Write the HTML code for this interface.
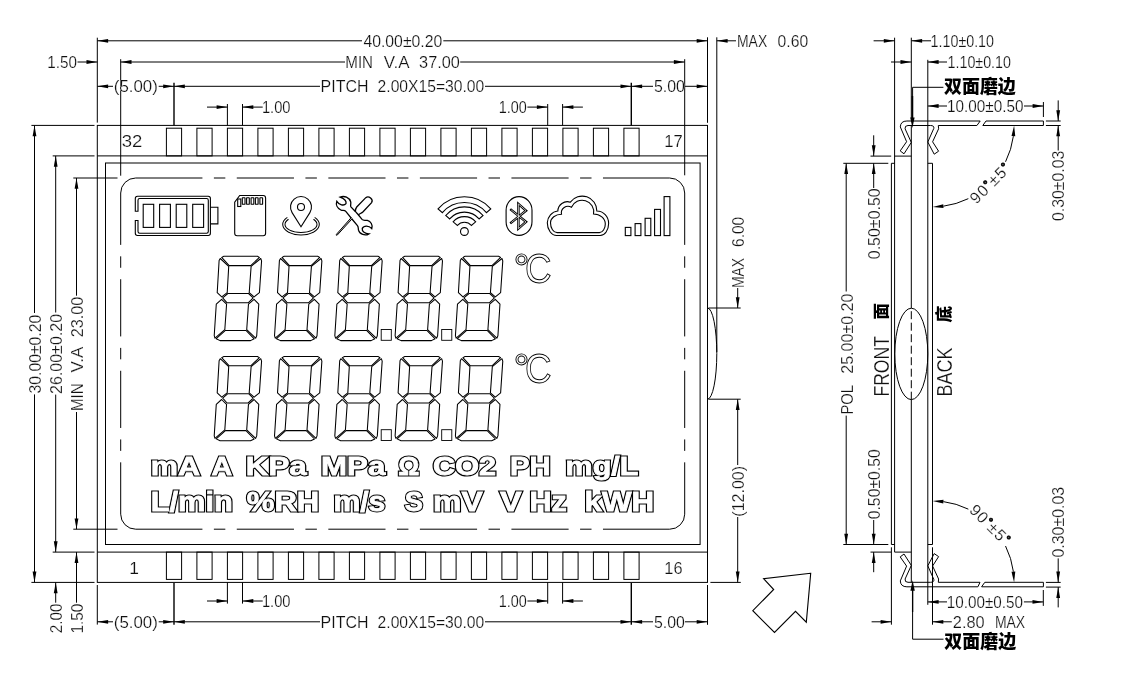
<!DOCTYPE html>
<html lang="zh"><head><meta charset="utf-8"><title>LCD outline drawing</title>
<style>
html,body{margin:0;padding:0;background:#fff;overflow:hidden}
svg{display:block;will-change:transform}
svg *{vector-effect:none}
.g{fill:none;stroke:#000;stroke-linecap:butt;stroke-linejoin:miter}
.a{fill:#000;stroke:none}
.t{fill:#111;stroke:#fff;stroke-width:0.2px;font-family:"Liberation Sans", sans-serif;white-space:pre}
.c{fill:#000;stroke:none;font-family:"Liberation Sans", "Noto Sans CJK SC", sans-serif;font-weight:900}
.o1{fill:#000;stroke:#000;stroke-linejoin:miter;stroke-miterlimit:3;font-family:"Liberation Sans", sans-serif;font-weight:bold}
.o2{fill:#fff;stroke:#fff;stroke-linejoin:miter;stroke-miterlimit:3;font-family:"Liberation Sans", sans-serif;font-weight:bold}
.w{stroke:#fff}
</style></head><body>
<svg width="1138" height="679" viewBox="0 0 1138 679">
<rect width="1138" height="679" fill="#fff"/>
<g class="g">
<rect x="97.3" y="125.4" width="610.2" height="457" rx="0" stroke-width="1"/>
<line x1="97.3" y1="155.9" x2="707.5" y2="155.9" stroke-width="1"/>
<line x1="97.3" y1="552.1" x2="707.5" y2="552.1" stroke-width="1"/>
<rect x="105.5" y="163" width="594.6" height="381.5" rx="0" stroke-width="1"/>
<rect x="166.4" y="128.2" width="15.2" height="27.7" rx="0" stroke-width="1"/>
<rect x="166.4" y="552.1" width="15.2" height="27.3" rx="0" stroke-width="1"/>
<rect x="196.9" y="128.2" width="15.2" height="27.7" rx="0" stroke-width="1"/>
<rect x="196.9" y="552.1" width="15.2" height="27.3" rx="0" stroke-width="1"/>
<rect x="227.4" y="128.2" width="15.2" height="27.7" rx="0" stroke-width="1"/>
<rect x="227.4" y="552.1" width="15.2" height="27.3" rx="0" stroke-width="1"/>
<rect x="257.9" y="128.2" width="15.2" height="27.7" rx="0" stroke-width="1"/>
<rect x="257.9" y="552.1" width="15.2" height="27.3" rx="0" stroke-width="1"/>
<rect x="288.4" y="128.2" width="15.2" height="27.7" rx="0" stroke-width="1"/>
<rect x="288.4" y="552.1" width="15.2" height="27.3" rx="0" stroke-width="1"/>
<rect x="318.9" y="128.2" width="15.2" height="27.7" rx="0" stroke-width="1"/>
<rect x="318.9" y="552.1" width="15.2" height="27.3" rx="0" stroke-width="1"/>
<rect x="349.4" y="128.2" width="15.2" height="27.7" rx="0" stroke-width="1"/>
<rect x="349.4" y="552.1" width="15.2" height="27.3" rx="0" stroke-width="1"/>
<rect x="379.9" y="128.2" width="15.2" height="27.7" rx="0" stroke-width="1"/>
<rect x="379.9" y="552.1" width="15.2" height="27.3" rx="0" stroke-width="1"/>
<rect x="410.4" y="128.2" width="15.2" height="27.7" rx="0" stroke-width="1"/>
<rect x="410.4" y="552.1" width="15.2" height="27.3" rx="0" stroke-width="1"/>
<rect x="440.9" y="128.2" width="15.2" height="27.7" rx="0" stroke-width="1"/>
<rect x="440.9" y="552.1" width="15.2" height="27.3" rx="0" stroke-width="1"/>
<rect x="471.4" y="128.2" width="15.2" height="27.7" rx="0" stroke-width="1"/>
<rect x="471.4" y="552.1" width="15.2" height="27.3" rx="0" stroke-width="1"/>
<rect x="501.9" y="128.2" width="15.2" height="27.7" rx="0" stroke-width="1"/>
<rect x="501.9" y="552.1" width="15.2" height="27.3" rx="0" stroke-width="1"/>
<rect x="532.4" y="128.2" width="15.2" height="27.7" rx="0" stroke-width="1"/>
<rect x="532.4" y="552.1" width="15.2" height="27.3" rx="0" stroke-width="1"/>
<rect x="562.9" y="128.2" width="15.2" height="27.7" rx="0" stroke-width="1"/>
<rect x="562.9" y="552.1" width="15.2" height="27.3" rx="0" stroke-width="1"/>
<rect x="593.4" y="128.2" width="15.2" height="27.7" rx="0" stroke-width="1"/>
<rect x="593.4" y="552.1" width="15.2" height="27.3" rx="0" stroke-width="1"/>
<rect x="623.9" y="128.2" width="15.2" height="27.7" rx="0" stroke-width="1"/>
<rect x="623.9" y="552.1" width="15.2" height="27.3" rx="0" stroke-width="1"/>
<line x1="396.98" y1="178" x2="408.43" y2="178" stroke-width="1"/>
<line x1="396.98" y1="529.2" x2="408.43" y2="529.2" stroke-width="1"/>
<line x1="419.88" y1="178" x2="477.08" y2="178" stroke-width="1"/>
<line x1="419.88" y1="529.2" x2="477.08" y2="529.2" stroke-width="1"/>
<line x1="328.33" y1="178" x2="385.53" y2="178" stroke-width="1"/>
<line x1="328.33" y1="529.2" x2="385.53" y2="529.2" stroke-width="1"/>
<line x1="488.53" y1="178" x2="499.98" y2="178" stroke-width="1"/>
<line x1="488.53" y1="529.2" x2="499.98" y2="529.2" stroke-width="1"/>
<line x1="305.43" y1="178" x2="316.88" y2="178" stroke-width="1"/>
<line x1="305.43" y1="529.2" x2="316.88" y2="529.2" stroke-width="1"/>
<line x1="511.43" y1="178" x2="568.62" y2="178" stroke-width="1"/>
<line x1="511.43" y1="529.2" x2="568.62" y2="529.2" stroke-width="1"/>
<line x1="236.78" y1="178" x2="293.98" y2="178" stroke-width="1"/>
<line x1="236.78" y1="529.2" x2="293.98" y2="529.2" stroke-width="1"/>
<line x1="580.08" y1="178" x2="591.53" y2="178" stroke-width="1"/>
<line x1="580.08" y1="529.2" x2="591.53" y2="529.2" stroke-width="1"/>
<line x1="213.88" y1="178" x2="225.33" y2="178" stroke-width="1"/>
<line x1="213.88" y1="529.2" x2="225.33" y2="529.2" stroke-width="1"/>
<line x1="602.98" y1="178" x2="669.7" y2="178" stroke-width="1"/>
<line x1="602.98" y1="529.2" x2="669.7" y2="529.2" stroke-width="1"/>
<line x1="135.7" y1="178" x2="202.43" y2="178" stroke-width="1"/>
<line x1="135.7" y1="529.2" x2="202.43" y2="529.2" stroke-width="1"/>
<line x1="120.7" y1="347.88" x2="120.7" y2="359.33" stroke-width="1"/>
<line x1="684.7" y1="347.88" x2="684.7" y2="359.33" stroke-width="1"/>
<line x1="120.7" y1="370.78" x2="120.7" y2="427.98" stroke-width="1"/>
<line x1="684.7" y1="370.78" x2="684.7" y2="427.98" stroke-width="1"/>
<line x1="120.7" y1="279.23" x2="120.7" y2="336.43" stroke-width="1"/>
<line x1="684.7" y1="279.23" x2="684.7" y2="336.43" stroke-width="1"/>
<line x1="120.7" y1="439.43" x2="120.7" y2="450.88" stroke-width="1"/>
<line x1="684.7" y1="439.43" x2="684.7" y2="450.88" stroke-width="1"/>
<line x1="120.7" y1="256.33" x2="120.7" y2="267.78" stroke-width="1"/>
<line x1="684.7" y1="256.33" x2="684.7" y2="267.78" stroke-width="1"/>
<line x1="120.7" y1="462.33" x2="120.7" y2="514.2" stroke-width="1"/>
<line x1="684.7" y1="462.33" x2="684.7" y2="514.2" stroke-width="1"/>
<line x1="120.7" y1="193" x2="120.7" y2="244.88" stroke-width="1"/>
<line x1="684.7" y1="193" x2="684.7" y2="244.88" stroke-width="1"/>
<path d="M120.7 193A15.0 15.0 0 0 1 135.7 178" stroke-width="1"/>
<path d="M669.7 178A15.0 15.0 0 0 1 684.7 193" stroke-width="1"/>
<path d="M684.7 514.2A15.0 15.0 0 0 1 669.7 529.2" stroke-width="1"/>
<path d="M135.7 529.2A15.0 15.0 0 0 1 120.7 514.2" stroke-width="1"/>
<text class="t" x="121.8" y="146.8" font-size="17.4" textLength="20.6" lengthAdjust="spacingAndGlyphs">32</text>
<text class="t" x="664.3" y="146.8" font-size="17.4" textLength="18.5" lengthAdjust="spacingAndGlyphs">17</text>
<text class="t" x="129.3" y="574" font-size="17.4">1</text>
<text class="t" x="664.3" y="573.8" font-size="17.4" textLength="18.2" lengthAdjust="spacingAndGlyphs">16</text>
<path d="M707.5 308A9.3 45.6 0 0 1 707.5 399.2" stroke-width="1"/>
<line x1="716.8" y1="37.3" x2="716.8" y2="352" stroke-width="1"/>
<line x1="97.3" y1="37.7" x2="97.3" y2="122.6" stroke-width="1"/>
<line x1="707.5" y1="37.3" x2="707.5" y2="122.8" stroke-width="1"/>
<line x1="97.3" y1="40.8" x2="362" y2="40.8" stroke-width="1"/>
<line x1="443.3" y1="40.8" x2="707.5" y2="40.8" stroke-width="1"/>
<polygon class="a" points="97.3,40.8 108.1,38.9 108.1,42.7"/>
<polygon class="a" points="707.5,40.8 696.7,38.9 696.7,42.7"/>
<text class="t" x="363.4" y="46.9" font-size="16" textLength="78.9" lengthAdjust="spacingAndGlyphs">40.00±0.20</text>
<polygon class="a" points="716.8,40.8 727.6,38.9 727.6,42.7"/>
<line x1="716.8" y1="40.8" x2="736" y2="40.8" stroke-width="1"/>
<text class="t" x="737" y="46.9" font-size="16" textLength="30.2" lengthAdjust="spacingAndGlyphs">MAX</text>
<text class="t" x="777.6" y="46.9" font-size="16" textLength="30.5" lengthAdjust="spacingAndGlyphs">0.60</text>
<line x1="120.7" y1="59.2" x2="120.7" y2="175.7" stroke-width="1"/>
<line x1="684.7" y1="59.2" x2="684.7" y2="175.3" stroke-width="1"/>
<line x1="120.7" y1="62" x2="345" y2="62" stroke-width="1"/>
<line x1="460.2" y1="62" x2="684.7" y2="62" stroke-width="1"/>
<polygon class="a" points="120.7,62 131.5,60.1 131.5,63.9"/>
<polygon class="a" points="684.7,62 673.9,60.1 673.9,63.9"/>
<text class="t" x="345.3" y="68.1" font-size="16" textLength="27.7" lengthAdjust="spacingAndGlyphs">MIN</text>
<text class="t" x="383.8" y="68.1" font-size="16" textLength="25.8" lengthAdjust="spacingAndGlyphs">V.A</text>
<text class="t" x="419.1" y="68.1" font-size="16" textLength="40.8" lengthAdjust="spacingAndGlyphs">37.00</text>
<text class="t" x="47.3" y="68.1" font-size="16" textLength="29.6" lengthAdjust="spacingAndGlyphs">1.50</text>
<line x1="77.5" y1="62" x2="97.3" y2="62" stroke-width="1"/>
<polygon class="a" points="97.3,62 86.5,60.1 86.5,63.9"/>
<line x1="174" y1="82.7" x2="174" y2="125.4" stroke-width="1.4"/>
<line x1="631.3" y1="82.7" x2="631.3" y2="125.4" stroke-width="1.4"/>
<polygon class="a" points="97.3,86.3 108.1,84.4 108.1,88.2"/>
<line x1="97.3" y1="86.3" x2="113" y2="86.3" stroke-width="1"/>
<text class="t" x="113.8" y="92.4" font-size="16" textLength="44" lengthAdjust="spacingAndGlyphs">(5.00)</text>
<line x1="158.7" y1="86.3" x2="174" y2="86.3" stroke-width="1"/>
<polygon class="a" points="174,86.3 163.2,84.4 163.2,88.2"/>
<polygon class="a" points="174,86.3 184.8,84.4 184.8,88.2"/>
<line x1="174" y1="86.3" x2="320" y2="86.3" stroke-width="1"/>
<text class="t" x="320.6" y="92.4" font-size="16" textLength="47.8" lengthAdjust="spacingAndGlyphs">PITCH</text>
<text class="t" x="377.6" y="92.4" font-size="16" textLength="106.7" lengthAdjust="spacingAndGlyphs">2.00X15=30.00</text>
<line x1="485" y1="86.3" x2="631.3" y2="86.3" stroke-width="1"/>
<polygon class="a" points="631.3,86.3 620.5,84.4 620.5,88.2"/>
<polygon class="a" points="631.3,86.3 642.1,84.4 642.1,88.2"/>
<line x1="631.3" y1="86.3" x2="653" y2="86.3" stroke-width="1"/>
<text class="t" x="654" y="92.4" font-size="16" textLength="30.9" lengthAdjust="spacingAndGlyphs">5.00</text>
<line x1="685" y1="86.3" x2="707.5" y2="86.3" stroke-width="1"/>
<polygon class="a" points="707.5,86.3 696.7,84.4 696.7,88.2"/>
<line x1="227.4" y1="104" x2="227.4" y2="125.4" stroke-width="1"/>
<line x1="242.5" y1="104" x2="242.5" y2="125.4" stroke-width="1"/>
<line x1="207" y1="107.1" x2="227.4" y2="107.1" stroke-width="1"/>
<polygon class="a" points="227.4,107.1 216.6,105.2 216.6,109"/>
<polygon class="a" points="242.5,107.1 253.3,105.2 253.3,109"/>
<line x1="242.5" y1="107.1" x2="262.7" y2="107.1" stroke-width="1"/>
<text class="t" x="261.9" y="113.2" font-size="16" textLength="28.6" lengthAdjust="spacingAndGlyphs">1.00</text>
<text class="t" x="498.7" y="113.2" font-size="16" textLength="28" lengthAdjust="spacingAndGlyphs">1.00</text>
<line x1="547.7" y1="104" x2="547.7" y2="125.4" stroke-width="1"/>
<line x1="562.6" y1="104" x2="562.6" y2="125.4" stroke-width="1"/>
<line x1="527.4" y1="107.1" x2="547.7" y2="107.1" stroke-width="1"/>
<polygon class="a" points="547.7,107.1 536.9,105.2 536.9,109"/>
<polygon class="a" points="562.6,107.1 573.4,105.2 573.4,109"/>
<line x1="562.6" y1="107.1" x2="582.9" y2="107.1" stroke-width="1"/>
<line x1="227.4" y1="582.4" x2="227.4" y2="603.6" stroke-width="1"/>
<line x1="242.5" y1="582.4" x2="242.5" y2="603.6" stroke-width="1"/>
<line x1="207" y1="601" x2="227.4" y2="601" stroke-width="1"/>
<polygon class="a" points="227.4,601 216.6,599.1 216.6,602.9"/>
<polygon class="a" points="242.5,601 253.3,599.1 253.3,602.9"/>
<line x1="242.5" y1="601" x2="262.7" y2="601" stroke-width="1"/>
<text class="t" x="261.9" y="607.1" font-size="16" textLength="28.6" lengthAdjust="spacingAndGlyphs">1.00</text>
<text class="t" x="498.7" y="607.1" font-size="16" textLength="28" lengthAdjust="spacingAndGlyphs">1.00</text>
<line x1="547.7" y1="582.4" x2="547.7" y2="603.6" stroke-width="1"/>
<line x1="562.6" y1="582.4" x2="562.6" y2="603.6" stroke-width="1"/>
<line x1="527.4" y1="601" x2="547.7" y2="601" stroke-width="1"/>
<polygon class="a" points="547.7,601 536.9,599.1 536.9,602.9"/>
<polygon class="a" points="562.6,601 573.4,599.1 573.4,602.9"/>
<line x1="562.6" y1="601" x2="582.9" y2="601" stroke-width="1"/>
<line x1="97.3" y1="585" x2="97.3" y2="624.6" stroke-width="1"/>
<line x1="707.5" y1="585" x2="707.5" y2="624.8" stroke-width="1"/>
<line x1="174" y1="583" x2="174" y2="624.8" stroke-width="1.4"/>
<line x1="631.3" y1="583" x2="631.3" y2="624.8" stroke-width="1.4"/>
<polygon class="a" points="97.3,621.8 108.1,619.9 108.1,623.7"/>
<line x1="97.3" y1="621.8" x2="113" y2="621.8" stroke-width="1"/>
<text class="t" x="113.8" y="627.9" font-size="16" textLength="44" lengthAdjust="spacingAndGlyphs">(5.00)</text>
<line x1="158.7" y1="621.8" x2="174" y2="621.8" stroke-width="1"/>
<polygon class="a" points="174,621.8 163.2,619.9 163.2,623.7"/>
<polygon class="a" points="174,621.8 184.8,619.9 184.8,623.7"/>
<line x1="174" y1="621.8" x2="320" y2="621.8" stroke-width="1"/>
<text class="t" x="320.6" y="627.9" font-size="16" textLength="47.8" lengthAdjust="spacingAndGlyphs">PITCH</text>
<text class="t" x="377.6" y="627.9" font-size="16" textLength="106.7" lengthAdjust="spacingAndGlyphs">2.00X15=30.00</text>
<line x1="485" y1="621.8" x2="631.3" y2="621.8" stroke-width="1"/>
<polygon class="a" points="631.3,621.8 620.5,619.9 620.5,623.7"/>
<polygon class="a" points="631.3,621.8 642.1,619.9 642.1,623.7"/>
<line x1="631.3" y1="621.8" x2="653" y2="621.8" stroke-width="1"/>
<text class="t" x="654" y="627.9" font-size="16" textLength="30.9" lengthAdjust="spacingAndGlyphs">5.00</text>
<line x1="685" y1="621.8" x2="707.5" y2="621.8" stroke-width="1"/>
<polygon class="a" points="707.5,621.8 696.7,619.9 696.7,623.7"/>
<line x1="31.4" y1="125.4" x2="94.5" y2="125.4" stroke-width="1"/>
<line x1="31.4" y1="582.4" x2="94.5" y2="582.4" stroke-width="1"/>
<line x1="34.5" y1="125.4" x2="34.5" y2="313" stroke-width="1"/>
<line x1="34.5" y1="394.4" x2="34.5" y2="582.4" stroke-width="1"/>
<polygon class="a" points="34.5,125.4 32.6,136.2 36.4,136.2"/>
<polygon class="a" points="34.5,582.4 32.6,571.6 36.4,571.6"/>
<text class="t" transform="translate(40.6,393.5) rotate(-90)" font-size="16" textLength="78.7" lengthAdjust="spacingAndGlyphs">30.00±0.20</text>
<line x1="52.7" y1="155.9" x2="94.5" y2="155.9" stroke-width="1"/>
<line x1="52.7" y1="552.1" x2="94.5" y2="552.1" stroke-width="1"/>
<line x1="55.7" y1="155.9" x2="55.7" y2="312.5" stroke-width="1"/>
<line x1="55.7" y1="394.6" x2="55.7" y2="552.1" stroke-width="1"/>
<polygon class="a" points="55.7,155.9 53.8,166.7 57.6,166.7"/>
<polygon class="a" points="55.7,552.1 53.8,541.3 57.6,541.3"/>
<text class="t" transform="translate(61.8,394) rotate(-90)" font-size="16" textLength="80.1" lengthAdjust="spacingAndGlyphs">26.00±0.20</text>
<line x1="73.3" y1="178" x2="117.5" y2="178" stroke-width="1"/>
<line x1="73.3" y1="529.2" x2="117.5" y2="529.2" stroke-width="1"/>
<line x1="76.5" y1="178" x2="76.5" y2="295.7" stroke-width="1"/>
<line x1="76.5" y1="412" x2="76.5" y2="529.2" stroke-width="1"/>
<polygon class="a" points="76.5,178 74.6,188.8 78.4,188.8"/>
<polygon class="a" points="76.5,529.2 74.6,518.4 78.4,518.4"/>
<text class="t" transform="translate(83.1,411) rotate(-90)" font-size="16" textLength="27.7" lengthAdjust="spacingAndGlyphs">MIN</text>
<text class="t" transform="translate(83.1,372.5) rotate(-90)" font-size="16" textLength="25.8" lengthAdjust="spacingAndGlyphs">V.A</text>
<text class="t" transform="translate(83.1,337.2) rotate(-90)" font-size="16" textLength="40.5" lengthAdjust="spacingAndGlyphs">23.00</text>
<polygon class="a" points="55.7,582.4 53.8,593.2 57.6,593.2"/>
<line x1="55.7" y1="582.4" x2="55.7" y2="602.7" stroke-width="1"/>
<text class="t" transform="translate(61.8,633.2) rotate(-90)" font-size="16" textLength="29.6" lengthAdjust="spacingAndGlyphs">2.00</text>
<polygon class="a" points="76.5,552.1 74.6,562.9 78.4,562.9"/>
<line x1="76.5" y1="552.1" x2="76.5" y2="602.7" stroke-width="1"/>
<text class="t" transform="translate(83.1,633.6) rotate(-90)" font-size="16" textLength="30" lengthAdjust="spacingAndGlyphs">1.50</text>
<line x1="708.5" y1="308" x2="740.7" y2="308" stroke-width="1"/>
<line x1="708.5" y1="399.2" x2="740.7" y2="399.2" stroke-width="1"/>
<line x1="710.4" y1="582.4" x2="740.8" y2="582.4" stroke-width="1"/>
<text class="t" transform="translate(744,288.1) rotate(-90)" font-size="16" textLength="30.2" lengthAdjust="spacingAndGlyphs">MAX</text>
<text class="t" transform="translate(744,247) rotate(-90)" font-size="16" textLength="30.2" lengthAdjust="spacingAndGlyphs">6.00</text>
<line x1="737.7" y1="288" x2="737.7" y2="308" stroke-width="1"/>
<polygon class="a" points="737.7,308 735.8,297.2 739.6,297.2"/>
<polygon class="a" points="737.7,399.2 735.8,410 739.6,410"/>
<line x1="737.7" y1="399.2" x2="737.7" y2="465" stroke-width="1"/>
<text class="t" transform="translate(744,516.7) rotate(-90)" font-size="16" textLength="50.8" lengthAdjust="spacingAndGlyphs">(12.00)</text>
<line x1="737.7" y1="517" x2="737.7" y2="582.4" stroke-width="1"/>
<polygon class="a" points="737.7,582.4 735.8,571.6 739.6,571.6"/>
<polygon points="810.7,573.3 763.6,578.7 773.7,589.5 752.8,610.7 774.5,632.5 795.5,611.4 806.3,622.2" stroke-width="1.1"/>
<line x1="894.6" y1="37.7" x2="894.6" y2="552.1" stroke-width="1"/>
<line x1="911.3" y1="125.4" x2="911.3" y2="308.2" stroke-width="1"/>
<line x1="911.3" y1="399.6" x2="911.3" y2="582.4" stroke-width="1"/>
<line x1="927.8" y1="59.8" x2="927.8" y2="604.8" stroke-width="1"/>
<line x1="894.6" y1="156.1" x2="911.3" y2="156.1" stroke-width="1"/>
<line x1="894.6" y1="552.1" x2="911.3" y2="552.1" stroke-width="1"/>
<path d="M894.6 163.3H891.4V544.5H894.6" stroke-width="1"/>
<path d="M927.8 163.3H932.5V544.5H927.8" stroke-width="1"/>
<ellipse cx="911.3" cy="353.9" rx="16.5" ry="45.7" stroke-width="1"/>
<line x1="911.3" y1="308.2" x2="911.3" y2="399.6" stroke-width="1" stroke-dasharray="8 3.5" stroke-dashoffset="-3"/>
<path d="M1043.4 121 H986 M980.2 121 H906.9 Q900.6 121 900.3 126.9 L906.6 141.7 L900.2 150.9 L904 153.8 L911.3 142.4 L905.1 128.8 Q904.6 125.5 908 125.5 H930.5 Q934.4 125.5 933.8 128.4 L927.8 142 L934.2 154.2 L938.6 151.2 L932.6 141.8 L938.6 128.8 L938.3 125.5 H976.9 L980.2 121 M986 121 L982.8 125.5 H1043.4 V121" stroke-width="1"/>
<path d="M1043.4 586.8 H981.6 M977.9 586.8 H906.9 Q900.6 586.8 900.3 580.9 L906.6 566.1 L900.2 556.9 L904 554 L911.3 565.4 L905.1 579 Q904.6 582.3 908 582.3 H930.5 Q934.4 582.3 933.8 579.4 L927.8 565.8 L934.2 553.6 L938.6 556.6 L932.6 566 L938.6 579 L938.3 582.3 H980 L977.9 586.8 M981.6 586.8 L984.8 582.3 H1043.4 V586.8" stroke-width="1"/>
<line x1="873.6" y1="40.8" x2="894.6" y2="40.8" stroke-width="1"/>
<polygon class="a" points="894.6,40.8 883.8,38.9 883.8,42.7"/>
<polygon class="a" points="911.3,40.8 922.1,38.9 922.1,42.7"/>
<line x1="911.3" y1="40.8" x2="931" y2="40.8" stroke-width="1"/>
<line x1="911.3" y1="37.7" x2="911.3" y2="118" stroke-width="1"/>
<text class="t" x="930.6" y="46.9" font-size="16" textLength="63.4" lengthAdjust="spacingAndGlyphs">1.10±0.10</text>
<line x1="891" y1="62" x2="911.3" y2="62" stroke-width="1"/>
<polygon class="a" points="911.3,62 900.5,60.1 900.5,63.9"/>
<polygon class="a" points="927.8,62 938.6,60.1 938.6,63.9"/>
<line x1="927.8" y1="62" x2="947" y2="62" stroke-width="1"/>
<text class="t" x="947.6" y="68.1" font-size="16" textLength="63.3" lengthAdjust="spacingAndGlyphs">1.10±0.10</text>
<path d="M943.4 87.3H912.6V118" stroke-width="1"/>
<line x1="912.4" y1="96" x2="912.4" y2="119" stroke-width="1.6"/>
<polygon class="a" points="912.4,128 910.2,117.5 914.6,117.5"/>
<text class="c" x="944" y="92.6" font-size="18.2" textLength="71.8" lengthAdjust="spacingAndGlyphs">双面磨边</text>
<polygon class="a" points="927.8,106 938.6,104.1 938.6,107.9"/>
<line x1="927.8" y1="106" x2="947" y2="106" stroke-width="1"/>
<text class="t" x="947" y="112.1" font-size="16" textLength="76.4" lengthAdjust="spacingAndGlyphs">10.00±0.50</text>
<line x1="1024" y1="106" x2="1043.4" y2="106" stroke-width="1"/>
<polygon class="a" points="1043.4,106 1032.6,104.1 1032.6,107.9"/>
<line x1="1043.4" y1="102" x2="1043.4" y2="117" stroke-width="1"/>
<line x1="1045.9" y1="121" x2="1060.7" y2="121" stroke-width="1"/>
<line x1="1045.9" y1="125.5" x2="1060.7" y2="125.5" stroke-width="1"/>
<line x1="1058.2" y1="100.4" x2="1058.2" y2="121" stroke-width="1"/>
<polygon class="a" points="1058.2,121 1056.3,110.2 1060.1,110.2"/>
<polygon class="a" points="1058.2,125.5 1056.3,136.3 1060.1,136.3"/>
<line x1="1058.2" y1="125.5" x2="1058.2" y2="150.5" stroke-width="1"/>
<text class="t" transform="translate(1064.3,221) rotate(-90)" font-size="16" textLength="70.4" lengthAdjust="spacingAndGlyphs">0.30±0.03</text>
<line x1="1045.9" y1="582.4" x2="1060.7" y2="582.4" stroke-width="1"/>
<line x1="1045.9" y1="587.1" x2="1060.7" y2="587.1" stroke-width="1"/>
<text class="t" transform="translate(1064.3,557.6) rotate(-90)" font-size="16" textLength="70.8" lengthAdjust="spacingAndGlyphs">0.30±0.03</text>
<line x1="1058.2" y1="558.4" x2="1058.2" y2="582.4" stroke-width="1"/>
<polygon class="a" points="1058.2,582.4 1056.3,571.6 1060.1,571.6"/>
<polygon class="a" points="1058.2,587.1 1056.3,597.9 1060.1,597.9"/>
<line x1="1058.2" y1="587.1" x2="1058.2" y2="607.4" stroke-width="1"/>
<polygon class="a" points="927.8,601.9 938.6,600 938.6,603.8"/>
<line x1="927.8" y1="601.9" x2="947" y2="601.9" stroke-width="1"/>
<text class="t" x="946.8" y="608" font-size="16" textLength="76.1" lengthAdjust="spacingAndGlyphs">10.00±0.50</text>
<line x1="1023.9" y1="601.9" x2="1043.3" y2="601.9" stroke-width="1"/>
<polygon class="a" points="1043.3,601.9 1032.5,600 1032.5,603.8"/>
<line x1="1043.3" y1="590" x2="1043.3" y2="605.9" stroke-width="1"/>
<line x1="891.4" y1="547.3" x2="891.4" y2="624.7" stroke-width="1"/>
<line x1="932.5" y1="547.3" x2="932.5" y2="624.7" stroke-width="1"/>
<line x1="871.6" y1="621.8" x2="891.4" y2="621.8" stroke-width="1"/>
<polygon class="a" points="891.4,621.8 880.6,619.9 880.6,623.7"/>
<polygon class="a" points="932.5,621.8 943.3,619.9 943.3,623.7"/>
<line x1="932.5" y1="621.8" x2="951.8" y2="621.8" stroke-width="1"/>
<text class="t" x="952.8" y="627.9" font-size="16" textLength="31.8" lengthAdjust="spacingAndGlyphs">2.80</text>
<text class="t" x="994.9" y="627.9" font-size="16" textLength="30.3" lengthAdjust="spacingAndGlyphs">MAX</text>
<path d="M943.5 639.2H912.6V590" stroke-width="1"/>
<line x1="912.6" y1="589" x2="912.6" y2="612" stroke-width="1.3"/>
<polygon class="a" points="912.6,580.2 910.4,590.7 914.8,590.7"/>
<text class="c" x="944.3" y="648" font-size="18.2" textLength="71.8" lengthAdjust="spacingAndGlyphs">双面磨边</text>
<line x1="843.3" y1="163.3" x2="888.3" y2="163.3" stroke-width="1"/>
<line x1="843.3" y1="544.5" x2="888.3" y2="544.5" stroke-width="1"/>
<line x1="846.2" y1="163.3" x2="846.2" y2="291.5" stroke-width="1"/>
<line x1="846.2" y1="415.6" x2="846.2" y2="544.5" stroke-width="1"/>
<polygon class="a" points="846.2,163.3 844.3,174.1 848.1,174.1"/>
<polygon class="a" points="846.2,544.5 844.3,533.7 848.1,533.7"/>
<text class="t" transform="translate(852.9,414.6) rotate(-90)" font-size="16" textLength="29.5" lengthAdjust="spacingAndGlyphs">POL</text>
<text class="t" transform="translate(852.9,373.8) rotate(-90)" font-size="16" textLength="80.3" lengthAdjust="spacingAndGlyphs">25.00±0.20</text>
<line x1="870.5" y1="156.1" x2="891.2" y2="156.1" stroke-width="1"/>
<line x1="873.7" y1="135.3" x2="873.7" y2="156.1" stroke-width="1"/>
<polygon class="a" points="873.7,156.1 871.8,145.3 875.6,145.3"/>
<polygon class="a" points="873.7,163.3 871.8,174.1 875.6,174.1"/>
<line x1="873.7" y1="163.3" x2="873.7" y2="188" stroke-width="1"/>
<text class="t" transform="translate(879.9,259.2) rotate(-90)" font-size="16" textLength="70.9" lengthAdjust="spacingAndGlyphs">0.50±0.50</text>
<line x1="870.5" y1="552.1" x2="891.2" y2="552.1" stroke-width="1"/>
<text class="t" transform="translate(879.9,519.3) rotate(-90)" font-size="16" textLength="70.1" lengthAdjust="spacingAndGlyphs">0.50±0.50</text>
<line x1="873.7" y1="520" x2="873.7" y2="544.5" stroke-width="1"/>
<polygon class="a" points="873.7,544.5 871.8,533.7 875.6,533.7"/>
<polygon class="a" points="873.7,552.1 871.8,562.9 875.6,562.9"/>
<line x1="873.7" y1="552.1" x2="873.7" y2="572.2" stroke-width="1"/>
<text class="t" transform="translate(888.6,396.6) rotate(-90)" font-size="21.5" textLength="60.6" lengthAdjust="spacingAndGlyphs">FRONT</text>
<text class="t" transform="translate(951.9,396.6) rotate(-90)" font-size="21.5" textLength="49.2" lengthAdjust="spacingAndGlyphs">BACK</text>
<text class="c" transform="translate(886.6,319.4) rotate(-90)" font-size="16.4">面</text>
<text class="c" transform="translate(950.2,322.6) rotate(-90)" font-size="16.8">底</text>
<path d="M1013.38 136.18A81.5 81.5 0 0 1 1005.54 161.77" stroke-width="1"/>
<path d="M968.33 198.65A81.5 81.5 0 0 1 943.38 206.18" stroke-width="1"/>
<polygon class="a" points="1014.1,125.4 1015.28,136.3 1011.49,136.05"/>
<polygon class="a" points="932.6,206.9 943.25,204.29 943.5,208.08"/>
<text class="t" transform="translate(994.19,186.99) rotate(-45)" font-size="16" text-anchor="middle" letter-spacing="1.1">90<tspan font-size="10.5" dy="-4" font-weight="bold" stroke="#111" stroke-width="0.9">°</tspan><tspan dy="4">±5</tspan><tspan font-size="10.5" dy="-4" font-weight="bold" stroke="#111" stroke-width="0.9">°</tspan></text>
<path d="M1013.38 571.62A81.5 81.5 0 0 0 1005.54 546.03" stroke-width="1"/>
<path d="M968.33 509.15A81.5 81.5 0 0 0 943.38 501.62" stroke-width="1"/>
<polygon class="a" points="1014.1,582.4 1011.49,571.75 1015.28,571.5"/>
<polygon class="a" points="932.6,500.9 943.5,499.72 943.25,503.51"/>
<text class="t" transform="translate(986.27,528.73) rotate(45)" font-size="16" text-anchor="middle" letter-spacing="1.1">90<tspan font-size="10.5" dy="-4" font-weight="bold" stroke="#111" stroke-width="0.9">°</tspan><tspan dy="4">±5</tspan><tspan font-size="10.5" dy="-4" font-weight="bold" stroke="#111" stroke-width="0.9">°</tspan></text>
<path d="M137.5 196.3H208.2Q210.4 196.3 210.4 198.5V233.3Q210.4 235.5 208.2 235.5H137.5Q135.3 235.5 135.3 233.3V220.5H138.0V231.6Q138.0 233.3 139.7 233.3H206.6Q208.3 233.3 208.3 231.6V200.2Q208.3 198.5 206.6 198.5H139.7Q138.0 198.5 138.0 200.2V211.3H135.3V198.5Q135.3 196.3 137.5 196.3Z" stroke-width="1.1"/>
<path d="M210.4 207.2H217.9V223.9H210.4" stroke-width="1.1"/>
<rect x="143.2" y="204.3" width="10.5" height="23.1" rx="0" stroke-width="1.1"/>
<rect x="159.6" y="204.3" width="10.8" height="23.1" rx="0" stroke-width="1.1"/>
<rect x="176.2" y="204.3" width="10.6" height="23.1" rx="0" stroke-width="1.1"/>
<rect x="192.7" y="204.3" width="10.9" height="23.1" rx="0" stroke-width="1.1"/>
<path d="M239.7 195.5H263.2Q265.6 195.5 265.6 197.9V233.3Q265.6 235.7 263.2 235.7H237.1Q234.7 235.7 234.7 233.3V202.2Z" stroke-width="1.1"/>
<rect x="237.7" y="199" width="3.1" height="7.5" rx="0" stroke-width="1.1"/>
<rect x="242.3" y="197.7" width="2.7" height="6.6" rx="0.3" stroke-width="1.1"/>
<rect x="246.6" y="197.7" width="2.7" height="6.6" rx="0.3" stroke-width="1.1"/>
<rect x="251.1" y="197.7" width="2.7" height="6.6" rx="0.3" stroke-width="1.1"/>
<rect x="255.4" y="197.7" width="2.7" height="6.6" rx="0.3" stroke-width="1.1"/>
<rect x="259.9" y="197.7" width="2.7" height="6.6" rx="0.3" stroke-width="1.1"/>
<path d="M301 226.7L292.1 212.6A10.5 10.5 0 1 1 309.9 212.6Z" stroke-width="1.1"/>
<circle cx="301" cy="207.0" r="3.5" stroke-width="1.1"/>
<path d="M287.96 218.33A17.15 9.35 0 1 0 314.04 218.33" stroke-width="3.3"/>
<path d="M289.41 217.51A17.15 9.35 0 1 0 312.59 217.51" stroke-width="1.3" class="w"/>
<path d="M340.13 197.09C344.37 195.53 349.31 197.3 350.73 201.89C351.22 204.01 350.02 205.43 350.94 206.84L355.32 211.43L358.29 214.76L362.04 219.42C363.45 220.98 365.22 219.92 367.34 220.48C370.87 221.33 372.99 224.86 371.79 228.61C368.75 225.22 363.8 225.22 362.25 228.4C361.68 231.58 365.22 233.7 368.89 233.84C365.22 236.17 359.56 234.4 358.5 230.16C358.15 228.04 358.5 226.98 357.44 225.57L352.14 219.21L345.78 211.43C344.37 209.67 342.6 211.08 340.83 210.02C337.3 208.25 335.53 204.72 336.81 201.33C339.07 205.07 344.01 206.13 345.99 203.66C346.84 200.48 343.31 198.36 340.13 197.09Z" stroke-width="1.3"/>
<path d="M355.32 211.43C355.46 209.31 355.67 208.25 356.73 206.98L365.78 197.65C368.75 195.18 373.7 199.42 371.58 202.6L363.1 211.79C361.68 213.2 359.92 213.55 358.29 214.76" stroke-width="1.3"/>
<path d="M351.08 217.72L336.38 234.4L336.38 235.25L337.23 235.11L352.07 218.86" stroke-width="1" fill="#bbb"/>
<circle cx="464.4" cy="231.5" r="3.9" stroke-width="1.1"/>
<path d="M438.05 208.92A34.7 34.7 0 0 1 490.75 208.92L486.42 212.63A29.0 29.0 0 0 0 442.38 212.63Z" stroke-width="1.1"/>
<path d="M445.72 215.49A24.6 24.6 0 0 1 483.08 215.49L479.13 218.87A19.4 19.4 0 0 0 449.67 218.87Z" stroke-width="1.1"/>
<path d="M453.09 221.8A14.9 14.9 0 0 1 475.71 221.8L471.39 225.51A9.2 9.2 0 0 0 457.41 225.51Z" stroke-width="1.1"/>
<rect x="506.1" y="196.6" width="25.9" height="38.8" rx="12.9" ry="13.6" stroke-width="1.1"/>
<path d="M511.2 209.9L526.0 221.9L518.4 228.6V203.9L526.0 210.6L511.2 222.6" stroke-width="2.5" stroke-linecap="square" stroke-linejoin="miter" stroke-miterlimit="10"/>
<path d="M511.2 209.9L526.0 221.9L518.4 228.6V203.9L526.0 210.6L511.2 222.6" stroke-width="0.7" class="w" stroke-linejoin="miter" stroke-miterlimit="10"/>
<path d="M556.7 235.5A9.4 12.7 0 0 1 547.3 222.8A11.5 12.2 0 0 1 557.83 210.99A9.57 9.57 0 0 1 570.35 202.15A14.65 14.65 0 0 1 596.86 210.99A11.8 12.4 0 0 1 608.64 223.4A8.5 12.1 0 0 1 600.17 235.5Z" stroke-width="1.1"/>
<path d="M557.1 232.6A6.6 9.8 0 0 1 550.5 222.8A11 8.5 0 0 1 561.51 214.3A6.6 6.6 0 0 1 571.46 207.3A11.6 11.6 0 0 1 593.55 213.93A11.75 10 0 0 1 605.3 223.9A5.9 8.7 0 0 1 599.44 232.6Z" stroke-width="1.1"/>
<rect x="625.3" y="227.4" width="5.6" height="8.2" rx="0" stroke-width="1.1"/>
<rect x="635.1" y="223.6" width="5.8" height="12" rx="0" stroke-width="1.1"/>
<rect x="645.1" y="218.3" width="5.7" height="17.3" rx="0" stroke-width="1.1"/>
<rect x="654.6" y="209.4" width="5.9" height="26.2" rx="0" stroke-width="1.1"/>
<rect x="664.1" y="196.6" width="5.8" height="39" rx="0" stroke-width="1.1"/>
<polygon points="221.71,257.4 223.88,256.3 257.38,256.3 259.41,257.4 250.78,265.6 229.18,265.6" stroke-width="1.05" stroke-linejoin="round"/>
<polygon points="220.24,258.5 228.72,266.4 227.21,292.7 221.74,296.9 217.21,292.7 219.11,260.5" stroke-width="1.05" stroke-linejoin="round"/>
<polygon points="260.74,258.5 251.12,266.4 249.21,292.7 254.14,296.9 259.41,292.7 261.58,260.9" stroke-width="1.05" stroke-linejoin="round"/>
<polygon points="222.68,297.9 227.86,293.5 248.56,293.5 253.18,297.9 248.16,302.8 227.06,302.8" stroke-width="1.05" stroke-linejoin="round"/>
<polygon points="221.58,299.3 226.57,304.2 224.81,329.7 214.96,338.1 214.22,335.7 216.27,304.2" stroke-width="1.05" stroke-linejoin="round"/>
<polygon points="254.08,299.3 248.47,304.2 246.71,329.7 255.66,338.2 256.72,335.7 258.77,304.2" stroke-width="1.05" stroke-linejoin="round"/>
<polygon points="216.22,338.7 225.46,330.4 245.96,330.4 254.22,338.8 250.5,340.6 220.1,340.6" stroke-width="1.05" stroke-linejoin="round"/>
<polygon points="282.01,257.4 284.18,256.3 317.68,256.3 319.71,257.4 311.07,265.6 289.47,265.6" stroke-width="1.05" stroke-linejoin="round"/>
<polygon points="280.54,258.5 289.02,266.4 287.51,292.7 282.04,296.9 277.51,292.7 279.41,260.5" stroke-width="1.05" stroke-linejoin="round"/>
<polygon points="321.04,258.5 311.42,266.4 309.51,292.7 314.44,296.9 319.71,292.7 321.88,260.9" stroke-width="1.05" stroke-linejoin="round"/>
<polygon points="282.98,297.9 288.16,293.5 308.86,293.5 313.48,297.9 308.46,302.8 287.36,302.8" stroke-width="1.05" stroke-linejoin="round"/>
<polygon points="281.88,299.3 286.87,304.2 285.11,329.7 275.26,338.1 274.52,335.7 276.57,304.2" stroke-width="1.05" stroke-linejoin="round"/>
<polygon points="314.38,299.3 308.77,304.2 307.01,329.7 315.96,338.2 317.02,335.7 319.07,304.2" stroke-width="1.05" stroke-linejoin="round"/>
<polygon points="276.52,338.7 285.76,330.4 306.26,330.4 314.52,338.8 310.8,340.6 280.4,340.6" stroke-width="1.05" stroke-linejoin="round"/>
<polygon points="342.31,257.4 344.48,256.3 377.98,256.3 380.01,257.4 371.38,265.6 349.77,265.6" stroke-width="1.05" stroke-linejoin="round"/>
<polygon points="340.84,258.5 349.32,266.4 347.81,292.7 342.34,296.9 337.81,292.7 339.71,260.5" stroke-width="1.05" stroke-linejoin="round"/>
<polygon points="381.34,258.5 371.72,266.4 369.81,292.7 374.74,296.9 380.01,292.7 382.18,260.9" stroke-width="1.05" stroke-linejoin="round"/>
<polygon points="343.28,297.9 348.46,293.5 369.16,293.5 373.78,297.9 368.76,302.8 347.66,302.8" stroke-width="1.05" stroke-linejoin="round"/>
<polygon points="342.18,299.3 347.17,304.2 345.41,329.7 335.56,338.1 334.82,335.7 336.87,304.2" stroke-width="1.05" stroke-linejoin="round"/>
<polygon points="374.68,299.3 369.07,304.2 367.31,329.7 376.26,338.2 377.32,335.7 379.37,304.2" stroke-width="1.05" stroke-linejoin="round"/>
<polygon points="336.82,338.7 346.06,330.4 366.56,330.4 374.82,338.8 371.1,340.6 340.7,340.6" stroke-width="1.05" stroke-linejoin="round"/>
<polygon points="402.61,257.4 404.78,256.3 438.28,256.3 440.31,257.4 431.67,265.6 410.07,265.6" stroke-width="1.05" stroke-linejoin="round"/>
<polygon points="401.14,258.5 409.62,266.4 408.11,292.7 402.64,296.9 398.11,292.7 400.01,260.5" stroke-width="1.05" stroke-linejoin="round"/>
<polygon points="441.64,258.5 432.02,266.4 430.11,292.7 435.04,296.9 440.31,292.7 442.48,260.9" stroke-width="1.05" stroke-linejoin="round"/>
<polygon points="403.58,297.9 408.76,293.5 429.46,293.5 434.08,297.9 429.06,302.8 407.96,302.8" stroke-width="1.05" stroke-linejoin="round"/>
<polygon points="402.48,299.3 407.47,304.2 405.71,329.7 395.86,338.1 395.12,335.7 397.17,304.2" stroke-width="1.05" stroke-linejoin="round"/>
<polygon points="434.98,299.3 429.37,304.2 427.61,329.7 436.56,338.2 437.62,335.7 439.67,304.2" stroke-width="1.05" stroke-linejoin="round"/>
<polygon points="397.12,338.7 406.36,330.4 426.86,330.4 435.12,338.8 431.4,340.6 401,340.6" stroke-width="1.05" stroke-linejoin="round"/>
<polygon points="462.91,257.4 465.08,256.3 498.58,256.3 500.61,257.4 491.98,265.6 470.38,265.6" stroke-width="1.05" stroke-linejoin="round"/>
<polygon points="461.44,258.5 469.92,266.4 468.41,292.7 462.94,296.9 458.41,292.7 460.31,260.5" stroke-width="1.05" stroke-linejoin="round"/>
<polygon points="501.94,258.5 492.32,266.4 490.41,292.7 495.34,296.9 500.61,292.7 502.78,260.9" stroke-width="1.05" stroke-linejoin="round"/>
<polygon points="463.88,297.9 469.06,293.5 489.76,293.5 494.38,297.9 489.36,302.8 468.26,302.8" stroke-width="1.05" stroke-linejoin="round"/>
<polygon points="462.78,299.3 467.77,304.2 466.01,329.7 456.16,338.1 455.42,335.7 457.47,304.2" stroke-width="1.05" stroke-linejoin="round"/>
<polygon points="495.28,299.3 489.67,304.2 487.91,329.7 496.86,338.2 497.92,335.7 499.97,304.2" stroke-width="1.05" stroke-linejoin="round"/>
<polygon points="457.42,338.7 466.66,330.4 487.16,330.4 495.42,338.8 491.7,340.6 461.3,340.6" stroke-width="1.05" stroke-linejoin="round"/>
<rect x="381.2" y="329.5" width="10.1" height="10.8" rx="0" stroke-width="0.9"/>
<rect x="441.7" y="329.5" width="10.1" height="10.8" rx="0" stroke-width="0.9"/>
<polygon points="221.71,357.6 223.88,356.5 257.38,356.5 259.41,357.6 250.78,365.8 229.18,365.8" stroke-width="1.05" stroke-linejoin="round"/>
<polygon points="220.24,358.7 228.72,366.6 227.21,392.9 221.74,397.1 217.21,392.9 219.11,360.7" stroke-width="1.05" stroke-linejoin="round"/>
<polygon points="260.74,358.7 251.12,366.6 249.21,392.9 254.14,397.1 259.41,392.9 261.58,361.1" stroke-width="1.05" stroke-linejoin="round"/>
<polygon points="222.68,398.1 227.86,393.7 248.56,393.7 253.18,398.1 248.16,403 227.06,403" stroke-width="1.05" stroke-linejoin="round"/>
<polygon points="221.58,399.5 226.57,404.4 224.81,429.9 214.96,438.3 214.22,435.9 216.27,404.4" stroke-width="1.05" stroke-linejoin="round"/>
<polygon points="254.08,399.5 248.47,404.4 246.71,429.9 255.66,438.4 256.72,435.9 258.77,404.4" stroke-width="1.05" stroke-linejoin="round"/>
<polygon points="216.22,438.9 225.46,430.6 245.96,430.6 254.22,439 250.5,440.8 220.1,440.8" stroke-width="1.05" stroke-linejoin="round"/>
<polygon points="282.01,357.6 284.18,356.5 317.68,356.5 319.71,357.6 311.07,365.8 289.47,365.8" stroke-width="1.05" stroke-linejoin="round"/>
<polygon points="280.54,358.7 289.02,366.6 287.51,392.9 282.04,397.1 277.51,392.9 279.41,360.7" stroke-width="1.05" stroke-linejoin="round"/>
<polygon points="321.04,358.7 311.42,366.6 309.51,392.9 314.44,397.1 319.71,392.9 321.88,361.1" stroke-width="1.05" stroke-linejoin="round"/>
<polygon points="282.98,398.1 288.16,393.7 308.86,393.7 313.48,398.1 308.46,403 287.36,403" stroke-width="1.05" stroke-linejoin="round"/>
<polygon points="281.88,399.5 286.87,404.4 285.11,429.9 275.26,438.3 274.52,435.9 276.57,404.4" stroke-width="1.05" stroke-linejoin="round"/>
<polygon points="314.38,399.5 308.77,404.4 307.01,429.9 315.96,438.4 317.02,435.9 319.07,404.4" stroke-width="1.05" stroke-linejoin="round"/>
<polygon points="276.52,438.9 285.76,430.6 306.26,430.6 314.52,439 310.8,440.8 280.4,440.8" stroke-width="1.05" stroke-linejoin="round"/>
<polygon points="342.31,357.6 344.48,356.5 377.98,356.5 380.01,357.6 371.38,365.8 349.77,365.8" stroke-width="1.05" stroke-linejoin="round"/>
<polygon points="340.84,358.7 349.32,366.6 347.81,392.9 342.34,397.1 337.81,392.9 339.71,360.7" stroke-width="1.05" stroke-linejoin="round"/>
<polygon points="381.34,358.7 371.72,366.6 369.81,392.9 374.74,397.1 380.01,392.9 382.18,361.1" stroke-width="1.05" stroke-linejoin="round"/>
<polygon points="343.28,398.1 348.46,393.7 369.16,393.7 373.78,398.1 368.76,403 347.66,403" stroke-width="1.05" stroke-linejoin="round"/>
<polygon points="342.18,399.5 347.17,404.4 345.41,429.9 335.56,438.3 334.82,435.9 336.87,404.4" stroke-width="1.05" stroke-linejoin="round"/>
<polygon points="374.68,399.5 369.07,404.4 367.31,429.9 376.26,438.4 377.32,435.9 379.37,404.4" stroke-width="1.05" stroke-linejoin="round"/>
<polygon points="336.82,438.9 346.06,430.6 366.56,430.6 374.82,439 371.1,440.8 340.7,440.8" stroke-width="1.05" stroke-linejoin="round"/>
<polygon points="402.61,357.6 404.78,356.5 438.28,356.5 440.31,357.6 431.67,365.8 410.07,365.8" stroke-width="1.05" stroke-linejoin="round"/>
<polygon points="401.14,358.7 409.62,366.6 408.11,392.9 402.64,397.1 398.11,392.9 400.01,360.7" stroke-width="1.05" stroke-linejoin="round"/>
<polygon points="441.64,358.7 432.02,366.6 430.11,392.9 435.04,397.1 440.31,392.9 442.48,361.1" stroke-width="1.05" stroke-linejoin="round"/>
<polygon points="403.58,398.1 408.76,393.7 429.46,393.7 434.08,398.1 429.06,403 407.96,403" stroke-width="1.05" stroke-linejoin="round"/>
<polygon points="402.48,399.5 407.47,404.4 405.71,429.9 395.86,438.3 395.12,435.9 397.17,404.4" stroke-width="1.05" stroke-linejoin="round"/>
<polygon points="434.98,399.5 429.37,404.4 427.61,429.9 436.56,438.4 437.62,435.9 439.67,404.4" stroke-width="1.05" stroke-linejoin="round"/>
<polygon points="397.12,438.9 406.36,430.6 426.86,430.6 435.12,439 431.4,440.8 401,440.8" stroke-width="1.05" stroke-linejoin="round"/>
<polygon points="462.91,357.6 465.08,356.5 498.58,356.5 500.61,357.6 491.98,365.8 470.38,365.8" stroke-width="1.05" stroke-linejoin="round"/>
<polygon points="461.44,358.7 469.92,366.6 468.41,392.9 462.94,397.1 458.41,392.9 460.31,360.7" stroke-width="1.05" stroke-linejoin="round"/>
<polygon points="501.94,358.7 492.32,366.6 490.41,392.9 495.34,397.1 500.61,392.9 502.78,361.1" stroke-width="1.05" stroke-linejoin="round"/>
<polygon points="463.88,398.1 469.06,393.7 489.76,393.7 494.38,398.1 489.36,403 468.26,403" stroke-width="1.05" stroke-linejoin="round"/>
<polygon points="462.78,399.5 467.77,404.4 466.01,429.9 456.16,438.3 455.42,435.9 457.47,404.4" stroke-width="1.05" stroke-linejoin="round"/>
<polygon points="495.28,399.5 489.67,404.4 487.91,429.9 496.86,438.4 497.92,435.9 499.97,404.4" stroke-width="1.05" stroke-linejoin="round"/>
<polygon points="457.42,438.9 466.66,430.6 487.16,430.6 495.42,439 491.7,440.8 461.3,440.8" stroke-width="1.05" stroke-linejoin="round"/>
<rect x="381.2" y="429.7" width="10.1" height="10.8" rx="0" stroke-width="0.9"/>
<rect x="441.7" y="429.7" width="10.1" height="10.8" rx="0" stroke-width="0.9"/>
<text x="513.6" y="281.6" font-size="40" font-family='"Liberation Sans", sans-serif' fill="#fff" stroke="#000" stroke-width="0.9">°</text>
<text x="525.0" y="282.8" font-size="43" font-family='"Liberation Sans", sans-serif' fill="#fff" stroke="#000" stroke-width="0.9" textLength="26.6" lengthAdjust="spacingAndGlyphs">C</text>
<text x="513.6" y="381.9" font-size="40" font-family='"Liberation Sans", sans-serif' fill="#fff" stroke="#000" stroke-width="0.9">°</text>
<text x="525.0" y="383.1" font-size="43" font-family='"Liberation Sans", sans-serif' fill="#fff" stroke="#000" stroke-width="0.9" textLength="26.6" lengthAdjust="spacingAndGlyphs">C</text>
<text class="o1" x="150.7" y="474.9" font-size="26.4" stroke-width="3.0" textLength="49.3" lengthAdjust="spacingAndGlyphs">mA</text>
<text class="o2" x="150.7" y="474.9" font-size="26.4" stroke-width="0.8" textLength="49.3" lengthAdjust="spacingAndGlyphs">mA</text>
<text class="o1" x="211.6" y="474.9" font-size="26.4" stroke-width="3.0" textLength="20.7" lengthAdjust="spacingAndGlyphs">A</text>
<text class="o2" x="211.6" y="474.9" font-size="26.4" stroke-width="0.8" textLength="20.7" lengthAdjust="spacingAndGlyphs">A</text>
<text class="o1" x="245.8" y="474.9" font-size="26.4" stroke-width="3.0" textLength="60.9" lengthAdjust="spacingAndGlyphs">KPa</text>
<text class="o2" x="245.8" y="474.9" font-size="26.4" stroke-width="0.8" textLength="60.9" lengthAdjust="spacingAndGlyphs">KPa</text>
<text class="o1" x="321.1" y="474.9" font-size="26.4" stroke-width="3.0" textLength="64.2" lengthAdjust="spacingAndGlyphs">MPa</text>
<text class="o2" x="321.1" y="474.9" font-size="26.4" stroke-width="0.8" textLength="64.2" lengthAdjust="spacingAndGlyphs">MPa</text>
<text class="o1" x="398.3" y="474.9" font-size="26.4" stroke-width="3.0" textLength="21.1" lengthAdjust="spacingAndGlyphs">Ω</text>
<text class="o2" x="398.3" y="474.9" font-size="26.4" stroke-width="0.8" textLength="21.1" lengthAdjust="spacingAndGlyphs">Ω</text>
<text class="o1" x="433.1" y="474.9" font-size="26.4" stroke-width="3.0" textLength="62.9" lengthAdjust="spacingAndGlyphs">CO2</text>
<text class="o2" x="433.1" y="474.9" font-size="26.4" stroke-width="0.8" textLength="62.9" lengthAdjust="spacingAndGlyphs">CO2</text>
<text class="o1" x="509.9" y="474.9" font-size="26.4" stroke-width="3.0" textLength="40.6" lengthAdjust="spacingAndGlyphs">PH</text>
<text class="o2" x="509.9" y="474.9" font-size="26.4" stroke-width="0.8" textLength="40.6" lengthAdjust="spacingAndGlyphs">PH</text>
<text class="o1" x="565.6" y="474.9" font-size="26.4" stroke-width="3.0" textLength="72.7" lengthAdjust="spacingAndGlyphs">mg/L</text>
<text class="o2" x="565.6" y="474.9" font-size="26.4" stroke-width="0.8" textLength="72.7" lengthAdjust="spacingAndGlyphs">mg/L</text>
<text class="o1" x="150.7" y="510.7" font-size="27.8" stroke-width="3.0" textLength="82.2" lengthAdjust="spacingAndGlyphs">L/min</text>
<text class="o2" x="150.7" y="510.7" font-size="27.8" stroke-width="0.8" textLength="82.2" lengthAdjust="spacingAndGlyphs">L/min</text>
<text class="o1" x="246.8" y="510.7" font-size="27.8" stroke-width="3.0" textLength="72.5" lengthAdjust="spacingAndGlyphs">%RH</text>
<text class="o2" x="246.8" y="510.7" font-size="27.8" stroke-width="0.8" textLength="72.5" lengthAdjust="spacingAndGlyphs">%RH</text>
<text class="o1" x="333.4" y="510.7" font-size="27.8" stroke-width="3.0" textLength="52" lengthAdjust="spacingAndGlyphs">m/s</text>
<text class="o2" x="333.4" y="510.7" font-size="27.8" stroke-width="0.8" textLength="52" lengthAdjust="spacingAndGlyphs">m/s</text>
<text class="o1" x="404.7" y="510.7" font-size="27.8" stroke-width="3.0" textLength="18.2" lengthAdjust="spacingAndGlyphs">S</text>
<text class="o2" x="404.7" y="510.7" font-size="27.8" stroke-width="0.8" textLength="18.2" lengthAdjust="spacingAndGlyphs">S</text>
<text class="o1" x="433.1" y="510.7" font-size="27.8" stroke-width="3.0" textLength="49.6" lengthAdjust="spacingAndGlyphs">mV</text>
<text class="o2" x="433.1" y="510.7" font-size="27.8" stroke-width="0.8" textLength="49.6" lengthAdjust="spacingAndGlyphs">mV</text>
<text class="o1" x="499.9" y="510.7" font-size="27.8" stroke-width="3.0" textLength="21.6" lengthAdjust="spacingAndGlyphs">V</text>
<text class="o2" x="499.9" y="510.7" font-size="27.8" stroke-width="0.8" textLength="21.6" lengthAdjust="spacingAndGlyphs">V</text>
<text class="o1" x="529.4" y="510.7" font-size="27.8" stroke-width="3.0" textLength="37.4" lengthAdjust="spacingAndGlyphs">Hz</text>
<text class="o2" x="529.4" y="510.7" font-size="27.8" stroke-width="0.8" textLength="37.4" lengthAdjust="spacingAndGlyphs">Hz</text>
<text class="o1" x="584.6" y="510.7" font-size="27.8" stroke-width="3.0" textLength="69.6" lengthAdjust="spacingAndGlyphs">kWH</text>
<text class="o2" x="584.6" y="510.7" font-size="27.8" stroke-width="0.8" textLength="69.6" lengthAdjust="spacingAndGlyphs">kWH</text>
</g>
</svg>
</body></html>
